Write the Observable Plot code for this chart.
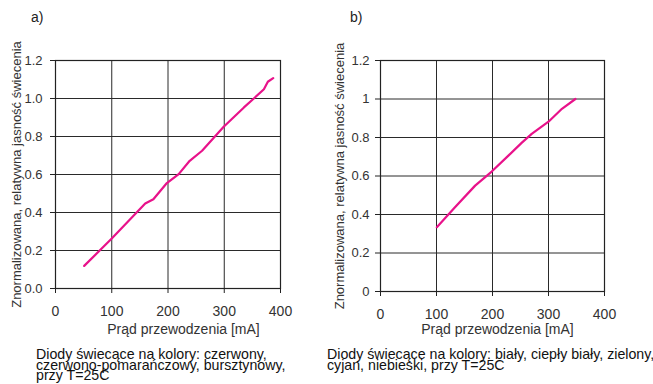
<!DOCTYPE html>
<html>
<head>
<meta charset="utf-8">
<script src="https://cdn.jsdelivr.net/npm/d3@7"></script>
<script src="https://cdn.jsdelivr.net/npm/@observablehq/plot@0.6"></script>
<style>
  html, body { margin: 0; padding: 0; background: #fff; }
  #wrap { position: relative; width: 653px; height: 384px; overflow: hidden; font-family: "Liberation Sans", Arial, sans-serif; }
  .panel { position: absolute; top: 0; }
  .tag { position: absolute; font-size: 14px; color: #222; }
  .cap { position: absolute; font-size: 14.2px; line-height: 10.7px; color: #111; white-space: nowrap; }
</style>
</head>
<body>
<div id="wrap">
  <div class="tag" style="left:31px;top:9px">a)</div>
  <div class="tag" style="left:350px;top:9px">b)</div>
  <div class="panel" id="pa" style="left:0px"></div>
  <div class="panel" id="pb" style="left:325px"></div>
  <div class="cap" id="capA" style="left:36px;top:349px"></div>
  <div class="cap" id="capB" style="left:327px;top:349px"></div>
</div>
<script>
// Panel a: red, red-orange, amber LEDs
const currentA = [51, 100, 159.5, 174, 198, 219, 238.6, 260.6, 299, 335, 352.6, 370.5, 377.5, 387];
const lumA = [0.119, 0.263, 0.447, 0.47, 0.555, 0.602, 0.672, 0.725, 0.851, 0.953, 1.0, 1.049, 1.088, 1.107];
// Panel b: white, warm white, green, cyan, blue LEDs
const currentB = [100.6, 133, 169, 198.6, 228.4, 252, 270, 300, 324, 348];
const lumB = [0.334, 0.438, 0.55, 0.623, 0.706, 0.772, 0.819, 0.882, 0.949, 1.0];

const xTicks = [0, 100, 200, 300, 400];
const yTicks = [0, 0.2, 0.4, 0.6, 0.8, 1.0, 1.2];
const xLabel = "Prąd przewodzenia [mA]";
const yLabel = "Znormalizowana, relatywna jasność świecenia";
const captionA = ["Diody świecące na kolory: czerwony,", "czerwono-pomarańczowy, bursztynowy,", "przy T=25C"];
const captionB = ["Diody świecące na kolory: biały, ciepły biały, zielony,", "cyjan, niebieski, przy T=25C"];

const lineColor = "#e8128a";
const gridColor = "#2a2a2a";

function panel(xs, ys, opts) {
  const data = xs.map((x, i) => ({x, y: ys[i]}));
  return Plot.plot({
    width: opts.width,
    height: opts.height,
    marginLeft: opts.ml,
    marginRight: opts.mr,
    marginTop: opts.mt,
    marginBottom: opts.mb,
    style: {fontFamily: "'Liberation Sans', Arial, sans-serif", fontSize: "14px", color: "#333", background: "transparent"},
    x: {domain: [0, 400]},
    y: {domain: [0, 1.2]},
    marks: [
      Plot.gridX(xTicks, {stroke: gridColor, strokeOpacity: 1, strokeWidth: 1}),
      Plot.gridY(yTicks, {stroke: gridColor, strokeOpacity: 1, strokeWidth: 1}),
      Plot.frame({stroke: "#222", strokeWidth: 1.2}),
      Plot.axisX(xTicks, {tickSize: 5, tickPadding: opts.xtp, stroke: "#222", label: null, fill: "#333"}),
      Plot.axisY(yTicks, {tickSize: 5, tickPadding: opts.ytp, stroke: "#222", tickFormat: opts.yfmt, label: yLabel, labelAnchor: "center", labelArrow: "none", labelOffset: opts.ylo, fill: "#333", fontSize: 13}),
      Plot.text([xLabel], {text: d => d, frameAnchor: "bottom", dx: opts.xdx, dy: opts.xdy, lineAnchor: "middle", fill: "#333", fontSize: 14}),
      Plot.line(data, {x: "x", y: "y", stroke: lineColor, strokeWidth: 2.2})
    ]
  });
}

document.getElementById("pa").appendChild(panel(currentA, lumA, {
  width: 320, height: 345, ml: 55, mr: 40, mt: 60, mb: 57, ylo: 44, ytp: 8, xtp: 13,
  xdx: 15.5, xdy: 41,
  yfmt: d3.format(".1f")
}));
document.getElementById("pb").appendChild(panel(currentB, lumB, {
  width: 328, height: 345, ml: 55, mr: 49, mt: 60, mb: 54, ylo: 46, ytp: 6, xtp: 13,
  xdx: 5, xdy: 38,
  yfmt: d => String(+(+d).toFixed(1))
}));

document.getElementById("capA").innerHTML = captionA.join("<br>");
document.getElementById("capB").innerHTML = captionB.join("<br>");
</script>
</body>
</html>
